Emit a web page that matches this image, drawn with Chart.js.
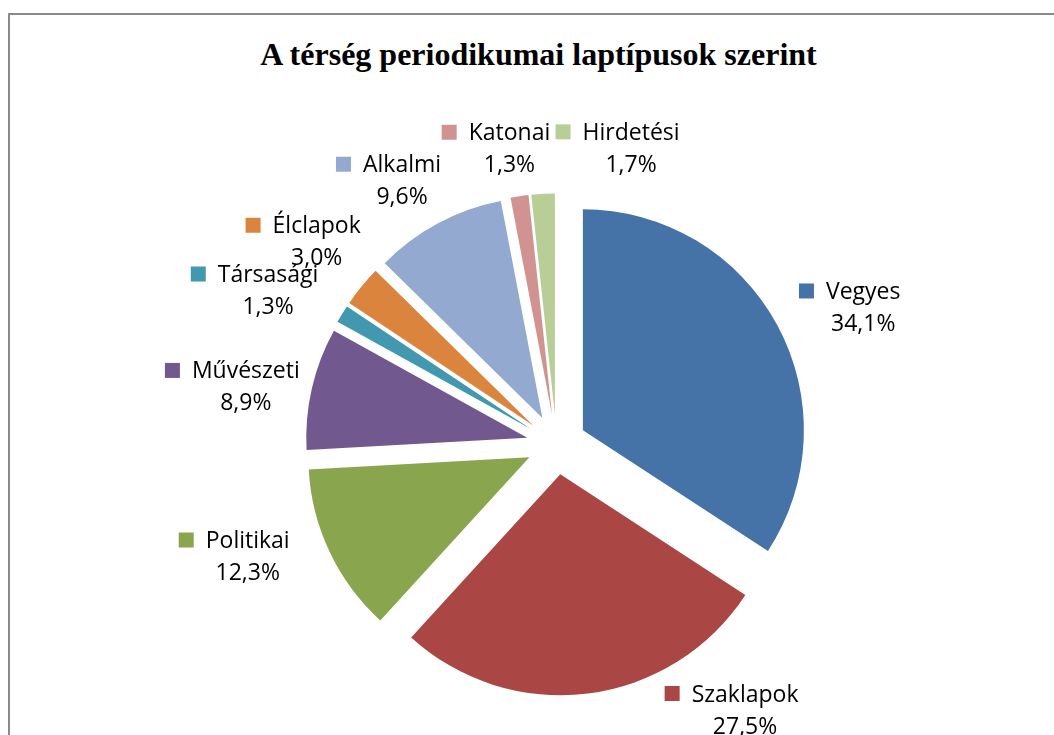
<!DOCTYPE html>
<html lang="hu">
<head>
<meta charset="utf-8">
<title>A térség periodikumai laptípusok szerint</title>
<script src="https://cdn.jsdelivr.net/npm/chart.js@4/dist/chart.umd.min.js"></script>
<style>
  html, body { margin: 0; padding: 0; background: #fff; overflow: hidden; }
  #wrap { position: relative; width: 1054px; height: 735px; overflow: hidden; }
  #frame { position: absolute; left: 8px; top: 13px; width: 1100px; height: 800px; border: 2px solid #8a8a8a; }
  #title { position: absolute; left: 0; top: 38px; width: 1077px; margin: 0; text-align: center;
           font: bold 32px/32px 'Liberation Serif', 'Times New Roman', serif; color: #000; }
  canvas { position: absolute; left: 0; top: 0; }
</style>
</head>
<body>
<div id="wrap">
  <div id="frame"></div>
  <h1 id="title">A térség periodikumai laptípusok szerint</h1>
  <canvas id="chart" width="1054" height="735"></canvas>
</div>
<script>
'use strict'

// slices, clockwise from 12 o'clock
const categories = ['Vegyes', 'Szaklapok', 'Politikai', 'Művészeti', 'Társasági', 'Élclapok', 'Alkalmi', 'Katonai', 'Hirdetési']
const shares = [34.1, 27.5, 12.3, 8.9, 1.3, 3.0, 9.6, 1.3, 1.7]
const colors = ['#4572a7', '#aa4643', '#89a54e', '#71588f', '#4198af', '#db843d', '#93a9cf', '#d19392', '#b9cd96']

// label nudges from the slice's outer edge, like Excel moved them
const labelShift = [[86, -18], [157, 16], [-82, 4], [-66, -2], [-74, -24], [-45, -45], [-36, -43], [-10, -48], [88, -46]]

const EXPLODE = 30
const PIE_RADIUS = 221
const LABEL_FONT = "23px 'Open Sans', sans-serif"
const LINE_GAP = 32
const KEY_SIZE = 15
const KEY_GAP = 12

function toPercent (v) {
  return v.toFixed(1).replace('.', ',') + '%'
}

// push every slice out by the same distance
const explodedPie = {
  id: 'explodedPie',
  beforeDatasetDraw (chart, args) {
    const ctx = chart.ctx
    args.meta.data.forEach(arc => {
      const mid = (arc.startAngle + arc.endAngle) / 2
      ctx.save()
      ctx.translate(Math.cos(mid) * EXPLODE, Math.sin(mid) * EXPLODE)
      arc.draw(ctx, chart.chartArea)
      ctx.restore()
    })
    return false
  }
}

const sliceLabels = {
  id: 'sliceLabels',
  afterDatasetsDraw (chart) {
    const ctx = chart.ctx
    const arcs = chart.getDatasetMeta(0).data
    ctx.save()
    ctx.font = LABEL_FONT
    ctx.textAlign = 'center'
    ctx.textBaseline = 'alphabetic'
    arcs.forEach((arc, i) => {
      const mid = (arc.startAngle + arc.endAngle) / 2
      const r = arc.outerRadius + EXPLODE
      const cx = arc.x + Math.cos(mid) * r + labelShift[i][0]
      const cy = arc.y + Math.sin(mid) * r + labelShift[i][1]
      const y1 = cy - LINE_GAP / 2
      const y2 = cy + LINE_GAP / 2
      const w = ctx.measureText(categories[i]).width
      ctx.fillStyle = colors[i]
      ctx.fillRect(cx - w / 2 - KEY_GAP - KEY_SIZE, y1 - KEY_SIZE / 2, KEY_SIZE, KEY_SIZE)
      ctx.fillStyle = '#000'
      ctx.fillText(categories[i], cx, y1 + 8)
      ctx.fillText(toPercent(shares[i]), cx, y2 + 8)
    })
    ctx.restore()
  }
}

new Chart(document.getElementById('chart'), {
  type: 'pie',
  data: {
    labels: categories,
    datasets: [{
      data: shares,
      backgroundColor: colors,
      borderWidth: 0,
      offset: 0,
      hoverOffset: 0,
      radius: PIE_RADIUS
    }]
  },
  options: {
    responsive: false,
    animation: false,
    events: [],
    layout: { padding: { left: 100, right: 41, top: 160, bottom: 6 } },
    plugins: {
      legend: { display: false },
      tooltip: { enabled: false },
      title: { display: false }
    }
  },
  plugins: [explodedPie, sliceLabels]
})
</script>
</body>
</html>
